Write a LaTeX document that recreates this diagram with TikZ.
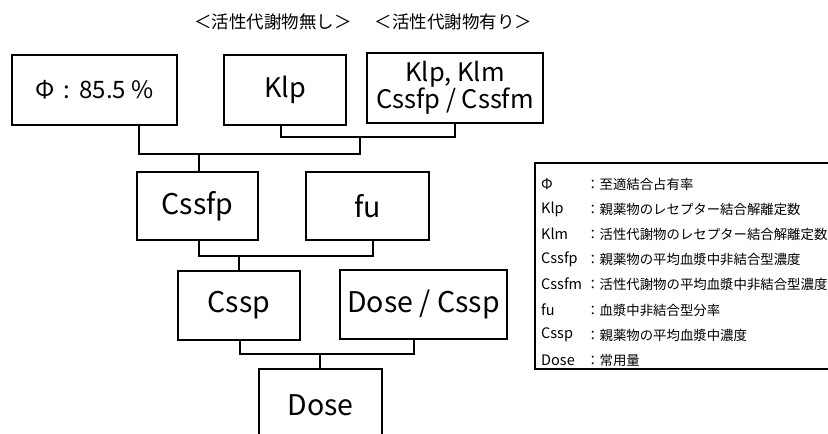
\documentclass[tikz,border=0pt]{standalone}
\usepackage{fontspec}
\setmainfont{Noto Sans CJK JP}
\begin{document}
\begin{tikzpicture}[x=1pt,y=-1pt,
  box/.style={draw,line width=1.1pt,rectangle,inner sep=0pt,align=center,font=\fontsize{28.5}{28.5}\selectfont},
  wire/.style={line width=1.1pt},
  ttl/.style={inner sep=0pt,font=\fontsize{17.5}{17.5}\selectfont},
  lgkey/.style={anchor=west,inner sep=0pt,font=\fontsize{14.5}{14.5}\selectfont},
  lgtxt/.style={anchor=west,inner sep=0pt,font=\fontsize{13.4}{13.4}\selectfont}]
\useasboundingbox (0,0) rectangle (828,434);
\clip (0,0) rectangle (828,434);
% titles
\node[ttl] (t1) at (273,22) {＜活性代謝物無し＞};
\node[ttl] (t2) at (453.5,22) {＜活性代謝物有り＞};
% boxes
\node[box,minimum width=165,minimum height=70,font=\fontsize{24}{24}\selectfont] (phi) at (94.5,90) {Φ\hspace{9pt}:\hspace{9pt}85.5 \%};
\node[box,minimum width=122,minimum height=70,font=\fontsize{27}{27}\selectfont] (klp) at (285,90) {Klp};
\node[box,minimum width=176,minimum height=70,font=\fontsize{25.5}{23}\selectfont] (klpm) at (455,88) {Klp, Klm\\Cssfp / Cssfm};
\node[box,minimum width=121,minimum height=68] (cssfp) at (197.5,206) {Cssfp};
\node[box,minimum width=123,minimum height=68] (fu) at (367.5,206) {fu};
\node[box,minimum width=122,minimum height=69] (cssp) at (239,305.5) {Cssp};
\node[box,minimum width=167,minimum height=69] (dosecssp) at (423.5,304.5) {Dose / Cssp};
\node[box,minimum width=123,minimum height=72] (dose) at (320.5,405) {Dose};
% junctions
\coordinate (a1) at (281,137);
\coordinate (a2) at (455,137);
\coordinate (a3) at (360,137);
\coordinate (b1) at (139,154);
\coordinate (b2) at (360,154);
\coordinate (b3) at (199,154);
\coordinate (c1) at (199,256);
\coordinate (c2) at (373,256);
\coordinate (c3) at (239,256);
\coordinate (d1) at (240,354);
\coordinate (d2) at (414,354);
\coordinate (d3) at (320,354);
\draw[wire] (klp.south -| a1) -- (a1) -- (a2) -- (klpm.south -| a2);
\draw[wire] (a3) -- (b2) -- (b1) -- (phi.south -| b1);
\draw[wire] (b3) -- (cssfp.north -| b3);
\draw[wire] (cssfp.south -| c1) -- (c1) -- (c2) -- (fu.south -| c2);
\draw[wire] (c3) -- (cssp.north -| c3);
\draw[wire] (cssp.south -| d1) -- (d1) -- (d2) -- (dosecssp.south -| d2);
\draw[wire] (d3) -- (dose.north -| d3);
% legend
\coordinate (lgtl) at (535,163);
\coordinate (lgbl) at (535,369);
\draw[wire] (lgtl -| 830,0) -- (lgtl) -- (lgbl) -- (lgbl -| 830,0);
\node[lgkey] (k1) at (541,184) {Φ};
\node[lgtxt] (v1) at (586,184) {：至適結合占有率};
\node[lgkey] (k2) at (541,209) {Klp};
\node[lgtxt] (v2) at (586,209) {：親薬物のレセプター結合解離定数};
\node[lgkey] (k3) at (541,234) {Klm};
\node[lgtxt] (v3) at (586,234) {：活性代謝物のレセプター結合解離定数};
\node[lgkey] (k4) at (541,259) {Cssfp};
\node[lgtxt] (v4) at (586,259) {：親薬物の平均血漿中非結合型濃度};
\node[lgkey] (k5) at (541,284) {Cssfm};
\node[lgtxt] (v5) at (586,284) {：活性代謝物の平均血漿中非結合型濃度};
\node[lgkey] (k6) at (541,310) {fu};
\node[lgtxt] (v6) at (586,310) {：血漿中非結合型分率};
\node[lgkey] (k7) at (541,335) {Cssp};
\node[lgtxt] (v7) at (586,335) {：親薬物の平均血漿中濃度};
\node[lgkey] (k8) at (541,360) {Dose};
\node[lgtxt] (v8) at (586,360) {：常用量};
\end{tikzpicture}
\end{document}
